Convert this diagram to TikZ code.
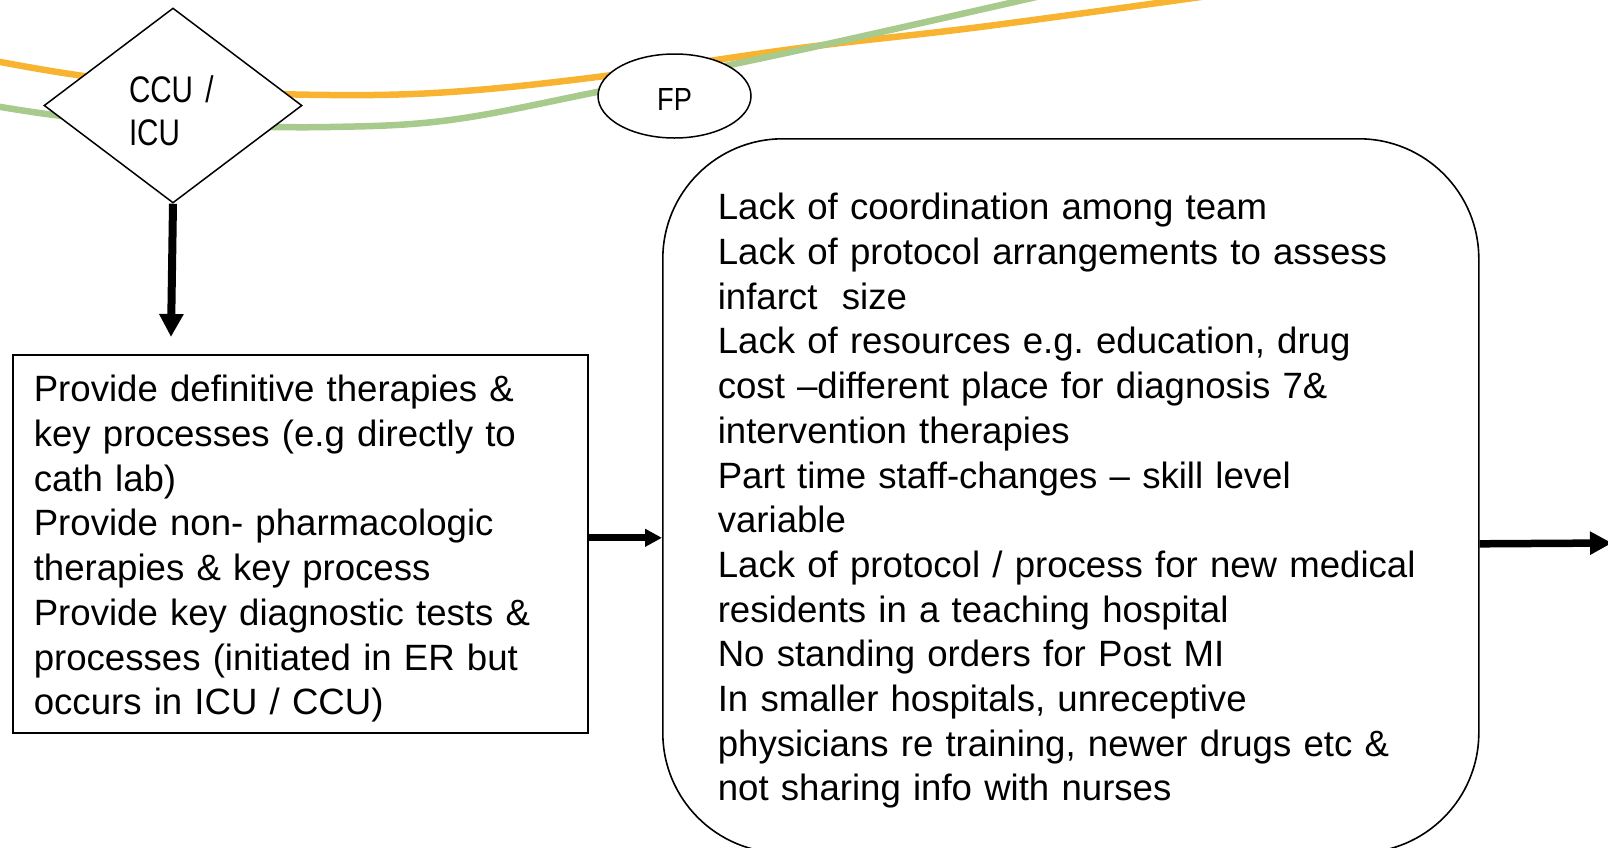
\documentclass[tikz,border=0pt]{standalone}
\usepackage{fontspec}
\setmainfont{Liberation Sans}
\newfontfamily\narrowfont[FakeStretch=0.80]{Liberation Sans}
\newfontfamily\fpfont[FakeStretch=0.85]{Liberation Sans}
\usetikzlibrary{shapes.geometric,arrows.meta}
\definecolor{curveorange}{RGB}{248,180,48}
\definecolor{curvegreen}{RGB}{168,202,140}
\tikzset{
  bigtext/.style={font=\frenchspacing\fontsize{36.6pt}{44.7pt}\selectfont, align=left, inner ysep=0pt},
  boxline/.style={draw=black, line width=1.6pt},
  fatarrow/.style={line width=#1},
  curve/.style={line width=6.5pt, line cap=round},
}
\begin{document}
\begin{tikzpicture}[x=1pt, y=-1pt]
\useasboundingbox (0,0) rectangle (1608,847);
% background curves
\draw[curve, curveorange] plot[smooth, tension=0.6] coordinates
  {(-5,61) (77,75) (200,90) (330,95) (450,92) (597,77) (800,48) (980,27) (1215,-5)};
\draw[curve, curvegreen] plot[smooth, tension=0.6] coordinates
  {(-5,106) (80,118) (200,125) (330,127) (450,120) (597,92) (800,50) (1045,-5)};
% nodes
\node[diamond, draw=black, line width=1.5pt, fill=white, minimum width=258pt,
      minimum height=195pt, inner sep=0pt, text width=88pt, align=left,
      text height=26.5pt, text depth=33.5pt,
      font=\narrowfont\fontsize{37pt}{43.5pt}\selectfont] (ccu) at (173,105.5) {CCU /\\ICU};
\node[ellipse, draw=black, line width=1.5pt, fill=white, minimum width=153pt,
      minimum height=84pt, inner sep=0pt, text height=29pt, text depth=0pt,
      font=\fpfont\fontsize{32pt}{38pt}\selectfont] (fp) at (674.5,96) {FP};
\node[bigtext, boxline, anchor=north west, inner xsep=21pt, text width=533pt,
      text height=47pt, text depth=331pt] (left) at (12,354)
  {Provide definitive therapies \&\\
   key processes (e.g directly to\\
   cath lab)\\
   Provide non- pharmacologic\\
   therapies \& key process\\
   Provide key diagnostic tests \&\\
   processes (initiated in ER but\\
   occurs in ICU / CCU)};
\node[bigtext, boxline, rounded corners=120pt, anchor=north west, inner xsep=55pt,
      text width=706pt, text height=81pt, text depth=633pt] (big) at (662,138)
  {Lack of coordination among team\\
   Lack of protocol arrangements to assess\\
   infarct\ \ size\\
   Lack of resources e.g. education, drug\\
   cost –different place for diagnosis 7\&\\
   intervention therapies\\
   Part time staff-changes – skill level\\
   variable\\
   Lack of protocol / process for new medical\\
   residents in a teaching hospital\\
   No standing orders for Post MI\\
   In smaller hospitals, unreceptive\\
   physicians re training, newer drugs etc \&\\
   not sharing info with nurses};
% connectors
\coordinate (dtip) at (171,337);
\coordinate (out) at (1612,543);
\draw[fatarrow=8pt, -{Triangle[length=23pt,width=23pt]}] (ccu.south) -- (dtip);
\draw[fatarrow=7pt, -{Triangle[length=17pt,width=17pt]}]
  ([yshift=6pt]left.east) -- ([yshift=6pt]left.east -| big.west);
\draw[fatarrow=7.5pt, -{Triangle[length=22pt,width=22pt]}]
  (left.east -| big.east) -- (out);
\end{tikzpicture}
\end{document}
